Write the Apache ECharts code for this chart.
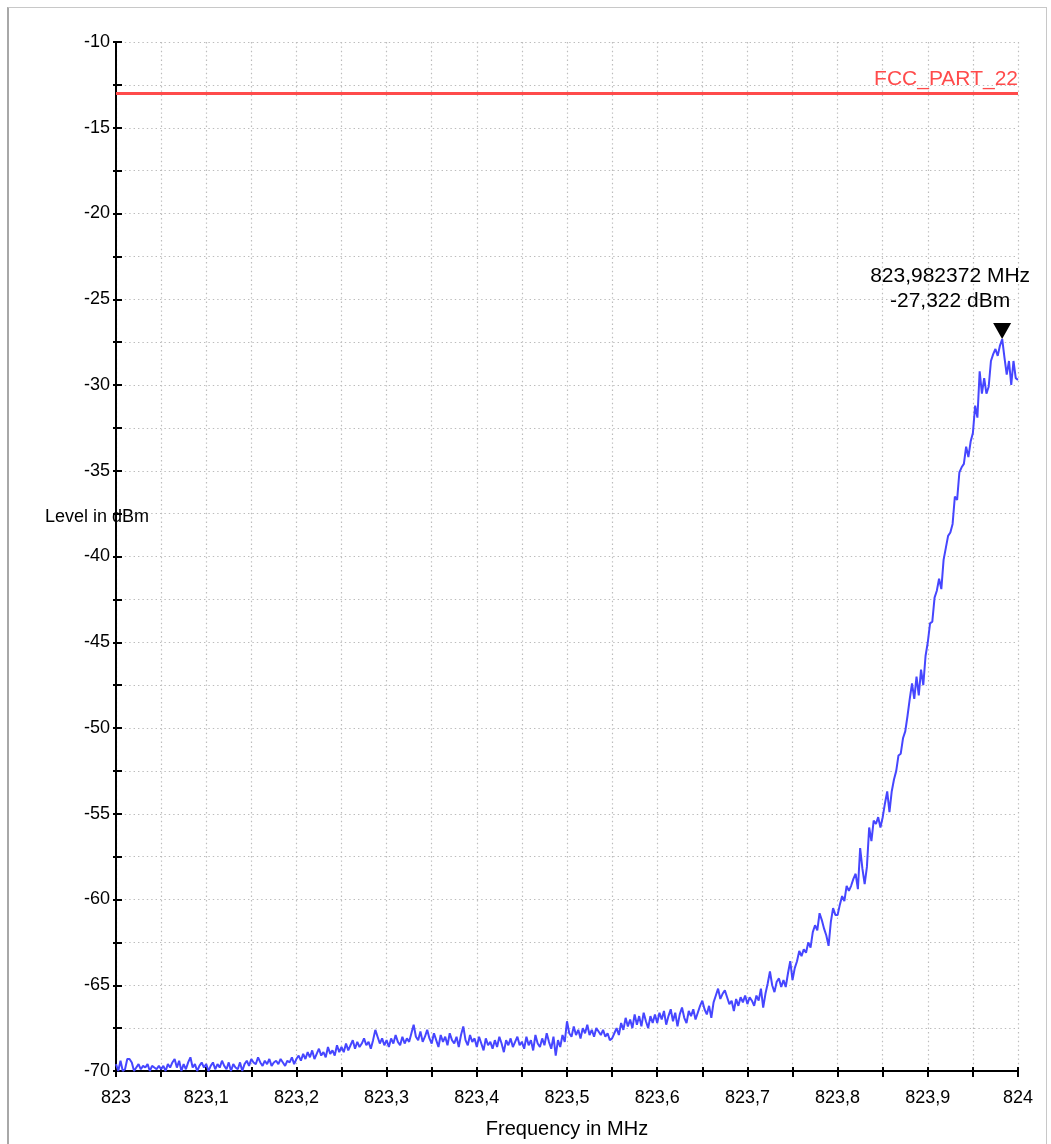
<!DOCTYPE html>
<html><head><meta charset="utf-8">
<script src="https://cdn.jsdelivr.net/npm/echarts@6/dist/echarts.min.js"></script>
<style>
html,body{margin:0;padding:0;background:#fff;overflow:hidden;width:1051px;height:1144px;}
#frame{position:absolute;left:7px;top:7px;width:1037px;height:1200px;border-left:2px solid #a8a8a8;border-top:1px solid #c8c8c8;border-right:1px solid #c8c8c8;}
#chart{position:absolute;left:0;top:0;width:1051px;height:1144px;}
</style></head><body>
<div id="frame"></div><div id="chart"></div>
<script>
// ---- data ----
const startFreq = 823.0;      // MHz, first sweep point
const stepFreq = 0.0025;      // MHz between sweep points
const levels = [
-69.6,-70.0,-69.4,-70.0,-69.9,-69.3,-69.3,-69.5,-70.0,-69.8,-69.6,-69.9,-69.7,-69.8,-69.6,-70.0,-69.7,-69.8,-69.9,-69.7,
-69.9,-69.7,-70.0,-69.6,-69.8,-69.5,-69.3,-69.8,-69.4,-70.0,-69.6,-69.9,-69.5,-69.2,-69.8,-69.6,-70.0,-69.7,-69.5,-69.8,
-69.6,-70.0,-69.7,-69.5,-69.9,-69.6,-69.8,-69.4,-69.7,-69.9,-69.5,-70.0,-69.6,-69.8,-69.9,-69.5,-70.0,-69.6,-69.4,-69.7,
-69.3,-69.5,-69.6,-69.2,-69.5,-69.7,-69.4,-69.6,-69.3,-69.7,-69.5,-69.4,-69.6,-69.3,-69.5,-69.7,-69.4,-69.5,-69.2,-69.6,
-69.3,-69.1,-69.4,-69.0,-69.3,-68.9,-69.2,-68.8,-69.3,-69.0,-68.7,-69.1,-68.9,-69.2,-68.6,-69.0,-68.8,-69.1,-68.5,-68.9,
-68.6,-68.9,-68.4,-68.8,-68.5,-68.2,-68.7,-68.3,-68.6,-68.4,-68.1,-68.5,-68.3,-68.7,-68.2,-67.6,-68.0,-68.4,-68.1,-68.5,
-68.2,-68.6,-68.1,-68.4,-67.9,-68.3,-68.5,-68.0,-68.4,-68.1,-68.3,-67.8,-67.3,-68.0,-68.2,-67.7,-68.3,-68.0,-67.6,-68.1,
-68.4,-67.8,-68.2,-68.6,-67.9,-68.3,-68.0,-68.5,-67.8,-68.2,-68.4,-68.0,-68.6,-67.9,-67.4,-68.2,-68.5,-67.9,-68.3,-68.1,
-68.6,-68.0,-68.4,-68.8,-68.1,-68.5,-68.3,-68.7,-68.2,-68.6,-68.0,-68.4,-68.9,-68.2,-68.5,-68.1,-68.6,-68.3,-68.0,-68.5,
-68.3,-68.7,-68.0,-68.5,-68.2,-68.8,-67.9,-68.4,-68.6,-68.1,-68.5,-67.8,-68.3,-68.7,-68.0,-69.1,-68.2,-68.6,-67.9,-68.3,
-67.1,-67.8,-68.0,-67.4,-67.9,-67.6,-68.1,-67.5,-67.8,-67.3,-67.9,-67.6,-68.0,-67.5,-67.7,-67.9,-67.6,-68.0,-67.8,-68.2,
-68.1,-67.8,-67.5,-67.9,-67.2,-67.6,-66.9,-67.4,-67.0,-67.5,-66.7,-67.3,-66.8,-67.4,-66.6,-67.1,-67.5,-66.8,-67.2,-66.7,
-67.2,-66.6,-67.0,-66.5,-67.3,-66.8,-66.4,-67.1,-66.6,-67.4,-66.7,-66.3,-66.9,-67.2,-66.5,-66.8,-66.4,-67.0,-66.6,-66.2,
-65.9,-66.4,-66.7,-66.2,-66.9,-66.0,-65.6,-65.2,-65.8,-65.5,-65.3,-65.7,-66.1,-65.9,-66.5,-65.8,-66.2,-65.7,-66.0,-65.6,
-66.1,-65.7,-65.9,-66.2,-65.6,-65.9,-65.2,-66.3,-65.5,-64.9,-64.2,-65.0,-65.4,-64.8,-64.6,-65.1,-64.7,-65.1,-64.3,-63.6,
-64.7,-64.0,-63.6,-63.0,-63.3,-62.9,-63.1,-62.5,-62.8,-61.9,-61.5,-61.8,-60.8,-61.2,-61.7,-62.1,-62.7,-61.3,-60.5,-60.9,
-60.9,-60.3,-59.8,-60.1,-59.2,-59.5,-59.2,-58.8,-58.5,-59.4,-57.0,-58.2,-59.1,-58.1,-55.8,-56.6,-55.4,-55.6,-55.2,-55.8,
-55.2,-54.4,-53.7,-54.9,-53.7,-53.0,-52.5,-51.6,-51.5,-50.6,-50.2,-49.3,-48.3,-47.4,-48.3,-47.0,-48.1,-46.6,-47.5,-45.8,
-45.0,-43.9,-43.8,-42.4,-42.0,-41.3,-41.9,-40.2,-39.5,-38.8,-38.6,-38.1,-36.5,-36.7,-35.1,-34.8,-34.6,-33.6,-34.2,-33.3,
-32.8,-31.2,-31.9,-29.2,-30.5,-29.6,-30.5,-30.1,-28.6,-28.2,-27.9,-28.3,-27.7,-27.322,-28.4,-29.4,-28.6,-30.0,-28.6,-29.6,
-29.7
];
const xMin = 823, xMax = 824, xTickStep = 0.05, xLabelStep = 0.1;
const yMin = -70, yMax = -10, yTickStep = 2.5, yLabelStep = 5;
const limitLevel = -13;
const limitName = 'FCC_PART_22';
const peakFreq = 823.982372;
const peakLevel = -27.322;
const xName = 'Frequency in MHz';
const yName = 'Level in dBm';

// ---- build ----
const trace = levels.map((v, i) => [startFreq + i * stepFreq, v]);
const FONT = "'Liberation Sans', Arial, sans-serif";
const near = (v, s) => Math.abs(v / s - Math.round(v / s)) < 1e-6;
const fmtNum = (v, d) => v.toFixed(d).replace('.', ',');
const xFmt = v => {
  if (!near(v - xMin, xLabelStep)) return '';
  const r = Math.round(v * 10) / 10;
  return Number.isInteger(r) ? String(r) : fmtNum(r, 1);
};
const yFmt = v => near(v, yLabelStep) ? String(Math.round(v)) : '';

const grid = { left: 116, right: 33, top: 42, bottom: 71, containLabel: false };
const gridLine = { show: true, lineStyle: { color: '#bcbcbc', width: 1.2, type: [1.4, 3] } };

const chart = echarts.init(document.getElementById('chart'), null, { renderer: 'canvas' });
chart.setOption({
  animation: false,
  backgroundColor: 'transparent',
  grid: grid,
  xAxis: [{
    type: 'value', min: xMin, max: xMax, interval: xTickStep,
    position: 'bottom',
    axisLine: { show: true, onZero: false, lineStyle: { color: '#000', width: 2 } },
    axisTick: { show: true, inside: false, length: 6, lineStyle: { color: '#000', width: 2 } },
    axisLabel: { show: true, margin: 18, formatter: xFmt, color: '#000', fontSize: 18, fontFamily: FONT, showMinLabel: true, showMaxLabel: true, hideOverlap: false },
    splitLine: gridLine,
    name: xName, nameLocation: 'middle', nameGap: 48,
    nameTextStyle: { color: '#000', fontSize: 20, fontFamily: FONT }
  }, {
    type: 'value', min: xMin, max: xMax, interval: xTickStep,
    position: 'bottom',
    axisLine: { show: false, onZero: false },
    axisTick: { show: true, inside: true, length: 4, lineStyle: { color: '#000', width: 2 } },
    axisLabel: { show: false }, splitLine: { show: false }
  }],
  yAxis: [{
    type: 'value', min: yMin, max: yMax, interval: yTickStep,
    position: 'left',
    axisLine: { show: true, onZero: false, lineStyle: { color: '#000', width: 2 } },
    axisTick: { show: true, inside: false, length: 3, lineStyle: { color: '#000', width: 2 } },
    axisLabel: { show: true, margin: 6, formatter: yFmt, color: '#000', fontSize: 18, fontFamily: FONT, showMinLabel: true, showMaxLabel: true },
    splitLine: gridLine
  }, {
    type: 'value', min: yMin, max: yMax, interval: yTickStep,
    position: 'left',
    axisLine: { show: false, onZero: false },
    axisTick: { show: true, inside: true, length: 6, lineStyle: { color: '#000', width: 2 } },
    axisLabel: { show: false }, splitLine: { show: false }
  }],
  graphic: [{
    type: 'text', left: 45, top: 508, z: 100,
    style: { text: yName, fill: '#000', font: "18px 'Liberation Sans', Arial, sans-serif" }
  }],
  series: [{
    type: 'line', xAxisIndex: 0, yAxisIndex: 0,
    data: trace, showSymbol: false, symbol: 'none',
    lineStyle: { color: '#4646ff', width: 2 },
    z: 3,
    markLine: {
      silent: true, symbol: 'none',
      lineStyle: { color: '#ff4b4b', width: 3, type: 'solid' },
      label: { show: true, position: 'insideEndTop', formatter: limitName, color: '#ff4b4b', fontSize: 21, fontFamily: FONT, distance: [0, 4] },
      data: [{ yAxis: limitLevel }]
    },
    markPoint: {
      silent: true,
      symbol: 'path://M0,0 L18,0 L9,16 Z',
      symbolSize: [18, 16],
      symbolOffset: [0, -8],
      itemStyle: { color: '#000' },
      label: {
        show: true, position: 'top', distance: 9, offset: [-52, 0],
        formatter: fmtNum(peakFreq, 6) + ' MHz\n' + fmtNum(peakLevel, 3) + ' dBm',
        color: '#000', fontSize: 21, lineHeight: 25, fontFamily: FONT, align: 'center'
      },
      data: [{ coord: [peakFreq, peakLevel] }]
    }
  }]
});
</script>
</body></html>
